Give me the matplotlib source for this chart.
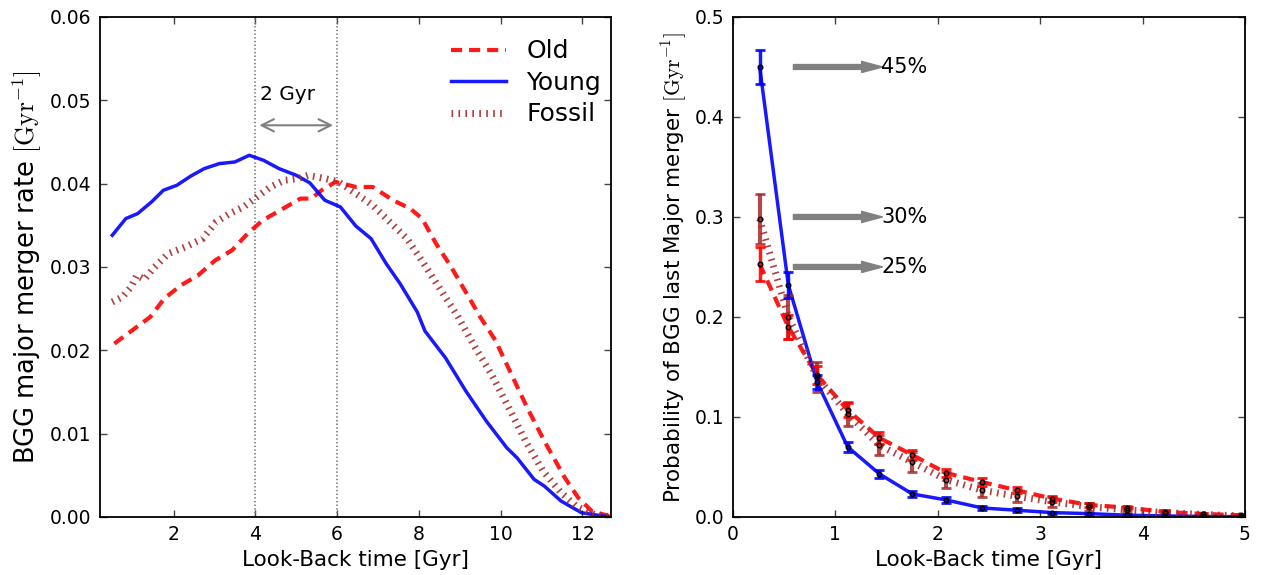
import matplotlib
matplotlib.use("Agg")
import matplotlib.pyplot as plt

plt.rcParams['font.family'] = ['DejaVu Sans']
plt.rcParams['mathtext.fontset'] = 'cm'
plt.rcParams['lines.scale_dashes'] = False

# %% left panel: major merger rate vs look-back time
young_t = [0.5, 0.83, 1.12, 1.46, 1.75, 2.08, 2.42, 2.75, 3.12, 3.5, 3.85, 4.2, 4.58, 5.0,
           5.33, 5.7, 6.08, 6.46, 6.83, 7.2, 7.54, 7.96, 8.15, 8.65, 9.15, 9.65, 10.15,
           10.4, 10.82, 11.07, 11.48, 11.98, 12.65]
young_rate = [0.0338, 0.0358, 0.0364, 0.0378, 0.0392, 0.0398, 0.0409, 0.0418, 0.0424, 0.0426,
              0.0434, 0.0428, 0.0418, 0.0410, 0.0401, 0.0380, 0.0372, 0.0349, 0.0334, 0.0304,
              0.0280, 0.0246, 0.0223, 0.0191, 0.0151, 0.0115, 0.0083, 0.0071, 0.0045, 0.0037,
              0.0019, 0.0005, 0.0]

old_t = [0.55, 1.1, 1.43, 1.77, 2.18, 2.6, 3.02, 3.43, 3.81, 4.18, 4.68, 5.1, 5.37, 5.62,
         5.96, 6.46, 6.87, 7.37, 7.79, 8.08, 8.42, 8.79, 9.17, 9.5, 9.87, 10.15, 10.65,
         11.07, 11.57, 11.9, 12.23, 12.65]
old_rate = [0.0208, 0.0228, 0.024, 0.0262, 0.0278, 0.029, 0.0308, 0.032, 0.034, 0.0356,
            0.037, 0.0382, 0.0382, 0.0392, 0.0402, 0.0396, 0.0396, 0.038, 0.037, 0.0358,
            0.0328, 0.030, 0.0268, 0.024, 0.0212, 0.0183, 0.0131, 0.0091, 0.0047, 0.0023,
            0.0007, 0.0001]

fossil_t = [0.5, 0.75, 0.96, 1.1, 1.29, 1.5, 1.87, 2.29, 2.71, 3.04, 3.37, 3.71, 4.04, 4.37,
            4.71, 5.04, 5.29, 5.71, 6.04, 6.46, 6.87, 7.29, 7.71, 8.12, 8.54, 8.96, 9.37,
            9.79, 10.21, 10.62, 11.04, 11.46, 11.87, 12.29, 12.7]
fossil_rate = [0.0258, 0.0264, 0.0276, 0.029, 0.0285, 0.0298, 0.0316, 0.0324, 0.0334, 0.0354,
               0.0364, 0.0372, 0.0384, 0.0396, 0.0404, 0.0406, 0.041, 0.0406, 0.0402, 0.0388,
               0.0374, 0.0354, 0.0334, 0.0304, 0.0272, 0.0240, 0.0204, 0.0170, 0.0130, 0.0090,
               0.0055, 0.0030, 0.0012, 0.0003, 0.0]

# %% right panel: probability of last major merger
prob_t = [0.26, 0.54, 0.82, 1.12, 1.43, 1.75, 2.08, 2.43, 2.77, 3.12, 3.48, 3.85, 4.22, 4.59, 4.96]
young_p = [0.450, 0.232, 0.135, 0.070, 0.043, 0.023, 0.017, 0.009, 0.0067, 0.0043, 0.0033,
           0.0017, 0.001, 0.0005, 0.0002]
young_err = [0.017, 0.013, 0.007, 0.005, 0.004, 0.003, 0.003, 0.002, 0.002, 0.001, 0.001,
             0.001, 0.001, 0.0005, 0.0005]
old_p = [0.253, 0.19, 0.142, 0.107, 0.079, 0.062, 0.044, 0.035, 0.0267, 0.0183, 0.012,
         0.0093, 0.005, 0.003, 0.0017]
old_err = [0.017, 0.012, 0.009, 0.007, 0.006, 0.005, 0.004, 0.004, 0.003, 0.003, 0.002,
           0.002, 0.002, 0.001, 0.001]
fossil_p = [0.298, 0.2, 0.14, 0.103, 0.0717, 0.0547, 0.0373, 0.0267, 0.0207, 0.015, 0.0103,
            0.007, 0.0043, 0.0025, 0.001]
fossil_err = [0.025, 0.022, 0.015, 0.012, 0.010, 0.010, 0.008, 0.007, 0.006, 0.005, 0.004,
              0.003, 0.002, 0.001, 0.001]

pct_labels = ['45%', '30%', '25%']
pct_y = [0.45, 0.30, 0.25]

# styles
c_old, c_young, c_fossil = 'red', 'blue', 'brown'
old_kw = dict(color=c_old, lw=3, dashes=(8, 5), alpha=0.9)
young_kw = dict(color=c_young, lw=2.5, alpha=0.9)
fossil_kw = dict(color=c_fossil, lw=5, dashes=(1.2, 3.8), alpha=0.9)

fig = plt.figure(figsize=(12.82, 5.75), dpi=100)
ax1 = fig.add_axes([0.078, 0.101, 0.3986, 0.8695])
ax2 = fig.add_axes([0.5718, 0.101, 0.3993, 0.8695])

for ax in (ax1, ax2):
    ax.tick_params(direction='in', top=True, right=True, length=5, width=1,
                   color='#444444', labelsize=13.5, pad=6)
    for s in ax.spines.values():
        s.set_linewidth(1.3)

# left
ax1.axvline(4, color='gray', ls=':', lw=1.3)
ax1.axvline(6, color='gray', ls=':', lw=1.3)
ax1.plot(old_t, old_rate, label='Old', **old_kw)
ax1.plot(young_t, young_rate, label='Young', **young_kw)
ax1.plot(fossil_t, fossil_rate, label='Fossil', **fossil_kw)
ax1.annotate('', xy=(4.03, 0.047), xytext=(5.97, 0.047),
             arrowprops=dict(arrowstyle='<->', color='gray', lw=1.5, mutation_scale=22))
ax1.text(4.12, 0.0507, '2 Gyr', fontsize=14.5, va='center', ha='left')
ax1.set_xlim(0.2, 12.7)
ax1.set_ylim(0, 0.06)
ax1.set_xticks([2, 4, 6, 8, 10, 12])
ax1.set_xlabel('Look-Back time [Gyr]', fontsize=15.5)
ax1.set_ylabel(r'BGG major merger rate $[\mathrm{Gyr}^{-1}]$', fontsize=18.5)
ax1.legend(loc='upper right', bbox_to_anchor=(1.01, 0.985), frameon=False, fontsize=18,
           handlelength=2.2, labelspacing=0.3, borderaxespad=0.2)

# right
ax2.plot(prob_t, old_p, **old_kw)
ax2.plot(prob_t, young_p, **young_kw)
ax2.plot(prob_t, fossil_p, **fossil_kw)
ax2.errorbar(prob_t, fossil_p, yerr=fossil_err, fmt='none', ecolor=c_fossil, elinewidth=3,
             capsize=3.5, capthick=2, alpha=0.85)
ax2.errorbar(prob_t, old_p, yerr=old_err, fmt='none', ecolor=c_old, elinewidth=2.5,
             capsize=3.5, capthick=2, alpha=0.9)
ax2.errorbar(prob_t, young_p, yerr=young_err, fmt='none', ecolor=c_young, elinewidth=2.5,
             capsize=3.5, capthick=2, alpha=0.9)
for yv in (old_p, young_p, fossil_p):
    ax2.plot(prob_t, yv, ls='none', marker='o', ms=3.2, mfc='none', mec='k', mew=1.1)
for lab, yv in zip(pct_labels, pct_y):
    ax2.annotate('', xy=(1.46, yv), xytext=(0.59, yv),
                 arrowprops=dict(facecolor='gray', edgecolor='gray', width=3.5,
                                 headwidth=8, headlength=15, shrink=0))
    ax2.text(1.45, yv, lab, fontsize=15, va='center', ha='left')
ax2.set_xlim(0, 5)
ax2.set_ylim(0, 0.5)
ax2.set_xlabel('Look-Back time [Gyr]', fontsize=15.5)
ax2.set_ylabel(r'Probability of BGG last Major merger $[\mathrm{Gyr}^{-1}]$', fontsize=15.5)

fig.savefig('out.png', dpi=100)
